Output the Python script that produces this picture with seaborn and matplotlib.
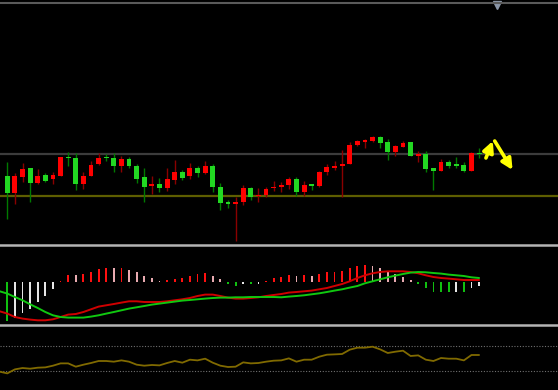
import numpy as np
import pandas as pd
import matplotlib
matplotlib.use('Agg')
import matplotlib.pyplot as plt
import seaborn as sns

# candles (index 1..63), red = up bar, green = down bar
opens = [74.3, 57.3, 73.3, 81.7, 67.3, 75, 71, 74.3, 93, 92.3,
         65.7, 74.3, 85.7, 92.7, 91.7, 84.3, 91, 84.3, 73.3, 63.7,
         66, 61.7, 70, 78.3, 74, 82, 77.3, 84.3, 63.3, 48.3,
         46.3, 47.7, 62, 54, 55, 61.7, 63, 65, 71, 58.3,
         65.7, 64.3, 78.3, 82.3, 84, 86, 105, 108.3, 109, 113.3,
         107.7, 98.3, 103.3, 107.7, 94.3, 95.7, 81.7, 79, 87.7, 86,
         85, 79.3, 96.7]
highs = [88.3, 77, 86.7, 82.3, 81, 76.7, 77.7, 93, 98.3, 96.7,
         78.3, 89, 96.7, 95.7, 96.7, 94.3, 93.3, 86, 82.3, 74.3,
         72.3, 81.7, 90, 80, 86.7, 84.3, 89, 86, 66.7, 49.7,
         53.3, 65, 63.3, 62.3, 63.3, 69, 68.3, 73.3, 72.7, 69,
         66, 79, 85.7, 89, 100, 107.7, 110, 111, 114.3, 114.3,
         111, 105, 109, 108.3, 99, 99, 82, 90.7, 90, 93.3,
         88.3, 97.7, 101.7]
lows = [31, 46, 68.3, 48.3, 65.7, 68.3, 65.7, 74, 84.3, 60,
        60.7, 74, 85.5, 89, 77.7, 78.3, 82.3, 66.7, 48.3, 55.7,
        58.3, 59, 65.7, 69.7, 71, 73.3, 75.7, 58.3, 40, 42.3,
        9.3, 45, 50, 48.3, 53.3, 59, 58.3, 60.7, 54.3, 54.3,
        60, 63.3, 75, 80, 53.3, 86, 104, 102.3, 108.3, 101.7,
        90, 94, 103.3, 94.3, 88.3, 78.3, 60, 79, 82.3, 82.3,
        77.7, 79.3, 92.3]
closes = [57.3, 73.7, 81.3, 67.3, 74.3, 69, 75, 92.7, 92, 65.7,
          74.3, 85, 92.3, 91.7, 84.3, 91, 84.3, 71, 63.3, 66,
          62, 70.7, 77.7, 72.3, 82.3, 77.3, 84, 63, 47.3, 46.3,
          48, 62, 53.3, 55.3, 61, 63.3, 65.3, 71, 58.3, 65,
          63.7, 78.3, 83, 84, 86.3, 105, 109, 110, 113.3, 107.3,
          98.3, 104, 106.7, 94.3, 95.7, 81, 79.3, 87.7, 84.3, 84,
          79.3, 96.7, 95.7]

# horizontal levels on price panel
resistance = 96.5
support = 54.2

# signal arrows (from index, from price, to index, to price)
arrow_up = (63.9, 92, 64.8, 109)
arrow_down = (65.05, 109, 67.4, 80)

# MACD style histogram (index 1..63) and its colour codes
hist = [-39, -35.7, -30.7, -26.3, -19.7, -13.7, -7, 1.7, 7.3, 7.3,
        8, 10, 13.3, 14.7, 14, 14, 12.7, 10, 6.7, 4,
        1.7, 2.3, 3, 4.7, 6.7, 8, 9.3, 6.7, 3, -1.7,
        -3.3, -2, -2, -1.3, 1.7, 4, 5, 7.3, 6.7, 7.3,
        6.7, 8.3, 10, 10.7, 11.3, 14, 16.7, 17.3, 16.7, 14.7,
        10.7, 8, 5.7, 2.3, -1.7, -6, -9.3, -9.3, -9.3, -9.3,
        -9.3, -6, -3.3]
hist_col = ['g', 'w', 'w', 'w', 'w', 'w', 'w', 'r', 'r', 'p',
            'r', 'r', 'r', 'r', 'p', 'r', 'p', 'p', 'p', 'p',
            'p', 'r', 'r', 'r', 'r', 'r', 'r', 'p', 'p', 'g',
            'g', 'w', 'g', 'w', 'r', 'r', 'r', 'r', 'p', 'r',
            'p', 'r', 'r', 'r', 'r', 'r', 'r', 'r', 'p', 'p',
            'p', 'p', 'p', 'p', 'g', 'g', 'g', 'g', 'g', 'w',
            'g', 'w', 'w']

# MACD lines (index 0..63)
macd_red = [-29, -31.3, -34.7, -36.3, -37.3, -38, -38, -37, -34.7, -32.3,
            -31.7, -29.7, -27, -24.3, -23, -21.7, -20.3, -19, -19, -19.7,
            -19.7, -19.7, -19, -18, -17, -15.7, -13.7, -12.3, -12.3, -13.7,
            -15.3, -16.3, -16.3, -15.7, -15, -13.7, -12.7, -11.7, -10.3, -9.7,
            -9, -8.3, -7, -5.7, -3.7, -1.7, 1, 4.3, 7, 9,
            10.3, 11, 11, 11, 10.3, 9, 7, 5.3, 4.3, 3.7,
            3, 2.3, 2.3, 2.3]
macd_green = [-9, -11.3, -14.7, -18, -22, -25.7, -29.7, -33, -34.7, -35.3,
              -35.3, -35.3, -34.3, -33, -31.3, -29.7, -28, -26.3, -25, -23.7,
              -22.3, -21.3, -20.3, -19.3, -18.3, -17.7, -17, -16.3, -15.7, -15.3,
              -15.3, -15, -15, -14.7, -14.7, -14.7, -14.7, -15, -14.3, -13.7,
              -13, -12, -11, -9.7, -8.3, -7, -5.3, -3.7, -1, 1,
              3, 5, 6.7, 8.3, 9.7, 10.3, 10, 9.3, 8.7, 7.7,
              7, 6.3, 5, 4.3]

# oscillator (index 0..63) with levels
osc = [28.4, 25.7, 32.1, 34.3, 33.2, 34.8, 35.3, 38, 41.7, 41.7,
       36.4, 39.6, 42.3, 45.5, 45.5, 44.4, 46.5, 44.4, 39.6, 38,
       39.1, 38.5, 42.3, 45.5, 42.8, 47.6, 46.5, 49.2, 42.8, 38,
       35.9, 36.4, 43.3, 41.7, 42.3, 44.4, 46, 46.5, 49.7, 44.4,
       47.6, 47.6, 52.4, 55.6, 56.1, 56.7, 63.6, 66.8, 66.8, 68.4,
       64.1, 58.3, 60.4, 62, 53.5, 54.5, 47.6, 45.5, 50.3, 49.2,
       49.2, 46.5, 55.1, 55.1]
osc_levels = [30, 70]

sns.set_style('dark', {'axes.facecolor': 'black', 'figure.facecolor': 'black'})

W, H = 558, 390
fig = plt.figure(figsize=(W / 100, H / 100), dpi=100)


def panel(top, bottom):
    return fig.add_axes([0, 1 - bottom / H, 1, (bottom - top) / H])


ax1 = panel(3, 245)
ax2 = panel(247, 325)
ax3 = panel(327, 390)
xlim = (0.04, 73.37)
for ax in (ax1, ax2, ax3):
    ax.set_facecolor('black')
    ax.set_xlim(*xlim)
    ax.set_xticks([])
    ax.set_yticks([])
    for s in ax.spines.values():
        s.set_visible(False)

# price panel
df = pd.DataFrame({'open': opens, 'high': highs, 'low': lows, 'close': closes})
df['idx'] = np.arange(1, len(df) + 1)
up = df['close'] >= df['open']
body_c = np.where(up, '#ff0000', '#22d822')
wick_c = np.where(up, '#8a0000', '#007a00')
ax1.axhline(resistance, color='#3c3c3c', lw=1.6, zorder=1)
ax1.axhline(support, color='#5e5e00', lw=1.6, zorder=1)
ax1.vlines(df['idx'], df['low'], df['high'], colors=wick_c, lw=1.0, zorder=2)
bottoms = df[['open', 'close']].min(axis=1)
heights = (df['close'] - df['open']).abs().clip(lower=1.0)
ax1.bar(df['idx'], heights, bottom=bottoms, width=0.64, color=body_c,
        edgecolor='none', linewidth=0, zorder=3)
ax1.set_ylim(5, 247)
for a in (arrow_up, arrow_down):
    ax1.annotate('', xy=(a[2], a[3]), xytext=(a[0], a[1]),
                 arrowprops=dict(arrowstyle='-|>', color='#ffff00', lw=2.6,
                                 mutation_scale=16, shrinkA=0, shrinkB=0))
ax1.plot([65.3], [245], marker='v', color='#8a96a8', ms=6, clip_on=False)
ax1.spines['top'].set_visible(True)
ax1.spines['top'].set_color('#5a5a5a')
ax1.spines['top'].set_linewidth(1.5)
ax1.spines['bottom'].set_visible(True)
ax1.spines['bottom'].set_color('#b4b4b4')
ax1.spines['bottom'].set_linewidth(1.8)

# MACD panel
cmap = {'r': '#ff1010', 'p': '#e8aab0', 'w': '#e6e6e6', 'g': '#10c010'}
ax2.bar(np.arange(1, 64), hist, width=0.24, color=[cmap[c] for c in hist_col],
        edgecolor='none', linewidth=0, zorder=2)
xs = np.arange(0, 64)
sns.lineplot(x=xs, y=macd_red, ax=ax2, color='#d00000', lw=1.4, zorder=3)
sns.lineplot(x=xs, y=macd_green, ax=ax2, color='#10c810', lw=1.4, zorder=3)
ax2.set_ylim(-42.7, 35.3)
ax2.set_xlim(*xlim)
ax2.set_xticks([])
ax2.set_yticks([])
ax2.spines['bottom'].set_visible(True)
ax2.spines['bottom'].set_color('#b4b4b4')
ax2.spines['bottom'].set_linewidth(1.8)

# oscillator panel
for lv in osc_levels:
    ax3.axhline(lv, color='#707070', lw=0.8, ls=(0, (1, 1.5)))
sns.lineplot(x=xs, y=osc, ax=ax3, color='#806a00', lw=1.3)
ax3.set_ylim(-0.9, 99.9)
ax3.set_xlim(*xlim)
ax3.set_xticks([])
ax3.set_yticks([])

fig.savefig('out.png', dpi=100, facecolor='black')
